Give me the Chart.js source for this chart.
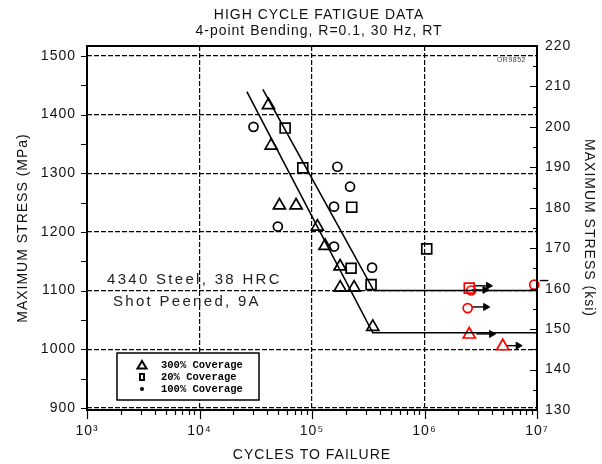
<!DOCTYPE html>
<html>
<head>
<meta charset="utf-8">
<script src="https://cdn.jsdelivr.net/npm/chart.js@4.4.0/dist/chart.umd.min.js"></script>
<style>
  html, body { margin: 0; padding: 0; background: #fff; }
</style>
</head>
<body>
<canvas id="fatigueChart" width="602" height="464"></canvas>
<script>
// S-N data (cycles, MPa)
const tri300N = [41000, 43300, 51300, 72200, 111700, 130700, 177700, 178000, 236600, 347000];
const tri300S = [1416, 1347, 1245, 1245, 1209, 1176, 1141, 1105, 1105, 1038];
const sq20N = [57700, 82800, 225600, 222500, 335000, 1047000];
const sq20S = [1377, 1309, 1242, 1138, 1110, 1171];
const circ100N = [30200, 168000, 217900, 157000, 49700, 157000, 342000];
const circ100S = [1379, 1311, 1277, 1243, 1209, 1175, 1139];

// run-outs (red)
const triRunN = [2500000, 4960000];
const triRunS = [1025, 1005];
const sqRunN = [2500000];
const sqRunS = [1104];
const circRunN = [2600000, 2420000, 9460000];
const circRunS = [1100, 1070, 1110];

// run-out arrows
const arrowS = [1108, 1101, 1072, 1026, 1006, 1117];
const arrowFrom = [2720000, 2630000, 2650000, 2900000, 5400000, 10600000];
const arrowTo = [3700000, 3450000, 3500000, 3950000, 6800000, 12600000];

// fitted curves with knee
const fitLowN = [26360, 346800, 10000000];
const fitLowS = [1439, 1028, 1028];
const fitHighN = [36560, 354000, 10000000];
const fitHighS = [1443, 1100, 1100];

// axes
const xTicks = [];
for (let d = 3; d < 7; d++) {
  for (let m = 1; m < 10; m++) xTicks.push(m * Math.pow(10, d));
}
xTicks.push(1e7);
const mpaTicks = [900, 950, 1000, 1050, 1100, 1150, 1200, 1250, 1300, 1350, 1400, 1450, 1500];
const ksiTicks = [];
for (let k = 130; k <= 220; k += 5) ksiTicks.push(k);
const supDigits = { 3: '\u00b3', 4: '\u2074', 5: '\u2075', 6: '\u2076', 7: '\u2077' };

const KSI_TO_MPA = 6.894757;
const FONT = "'Liberation Sans', Arial, sans-serif";

function pts(xs, ys) {
  return xs.map((x, i) => ({ x: x, y: ys[i] }));
}
function isDecade(v) {
  const l = Math.log10(v);
  return Math.abs(l - Math.round(l)) < 1e-9;
}

function markers(xs, ys, style, color, radius) {
  return {
    data: pts(xs, ys),
    showLine: false,
    pointStyle: style,
    pointRadius: radius,
    pointBorderColor: color,
    pointBackgroundColor: 'rgba(0,0,0,0)',
    pointBorderWidth: 1.7,
    clip: false
  };
}
function fitLine(xs, ys) {
  return {
    data: pts(xs, ys),
    showLine: true,
    borderColor: '#000',
    borderWidth: 1.6,
    pointRadius: 0,
    tension: 0
  };
}

const datasets = [
  fitLine(fitLowN, fitLowS),
  fitLine(fitHighN, fitHighS),
  markers(tri300N, tri300S, 'triangle', '#000', 7),
  markers(sq20N, sq20S, 'rect', '#000', 7),
  markers(circ100N, circ100S, 'circle', '#000', 4.5),
  markers(triRunN, triRunS, 'triangle', '#ff0000', 7),
  markers(sqRunN, sqRunS, 'rect', '#ff0000', 7),
  markers(circRunN, circRunS, 'circle', '#ff0000', 4.5)
];
arrowS.forEach((s, i) => {
  datasets.push({
    data: [{ x: arrowFrom[i], y: s }, { x: arrowTo[i], y: s }],
    showLine: true,
    borderColor: '#000',
    borderWidth: 1.4,
    pointRadius: [0, 4],
    pointStyle: 'triangle',
    pointRotation: 90,
    pointBackgroundColor: '#000',
    pointBorderColor: '#000',
    pointBorderWidth: 1,
    clip: false
  });
});

// frame, tick marks, titles, notes and legend
const decorPlugin = {
  id: 'decor',
  beforeDraw(chart) {
    chart.ctx.letterSpacing = '1px';
  },
  afterDraw(chart) {
    const ctx = chart.ctx;
    const a = chart.chartArea;
    const xs = chart.scales.x, ys = chart.scales.y, ks = chart.scales.y2;
    ctx.save();
    ctx.strokeStyle = '#000';
    ctx.lineWidth = 1.2;
    ctx.beginPath();
    mpaTicks.forEach(v => {
      const p = Math.round(ys.getPixelForValue(v)) + 0.5;
      ctx.moveTo(a.left - 6, p); ctx.lineTo(a.left, p);
    });
    ksiTicks.forEach(v => {
      const p = Math.round(ks.getPixelForValue(v)) + 0.5;
      ctx.moveTo(a.right - (v % 10 === 0 ? 7 : 4), p); ctx.lineTo(a.right, p);
    });
    xTicks.forEach(v => {
      const p = Math.round(xs.getPixelForValue(v)) + 0.5;
      ctx.moveTo(p, a.bottom); ctx.lineTo(p, a.bottom + (isDecade(v) ? 9 : 5));
    });
    ctx.stroke();

    ctx.lineWidth = 2;
    ctx.strokeRect(a.left, a.top, a.right - a.left, a.bottom - a.top);

    // titles
    ctx.fillStyle = '#111';
    ctx.textAlign = 'center';
    ctx.textBaseline = 'middle';
    ctx.letterSpacing = '1px';
    ctx.font = '14px ' + FONT;
    ctx.fillText('HIGH CYCLE FATIGUE DATA', 319, 15);
    ctx.fillText('4-point Bending, R=0.1, 30 Hz, RT', 319, 31);

    ctx.font = '7px ' + FONT;
    ctx.letterSpacing = '0.5px';
    ctx.fillStyle = '#444';
    ctx.textAlign = 'right';
    ctx.fillText('OR9852', 526, 60);

    // material note
    ctx.fillStyle = '#222';
    ctx.textAlign = 'left';
    ctx.font = '15px ' + FONT;
    ctx.letterSpacing = '2.3px';
    ctx.fillText('4340 Steel, 38 HRC', 107, 280);
    ctx.fillText('Shot Peened, 9A', 113, 302);

    // legend box
    ctx.letterSpacing = '0px';
    ctx.fillStyle = '#fff';
    ctx.fillRect(117, 353, 142, 47);
    ctx.lineWidth = 1.5;
    ctx.strokeRect(117, 353, 142, 47);
    ctx.strokeStyle = '#000';
    ctx.fillStyle = '#000';
    ctx.lineWidth = 2;
    ctx.beginPath();
    ctx.moveTo(142, 361); ctx.lineTo(146.5, 368.5); ctx.lineTo(137.5, 368.5); ctx.closePath();
    ctx.stroke();
    ctx.strokeRect(140, 374, 4, 6);
    ctx.beginPath();
    ctx.arc(142, 389, 2, 0, Math.PI * 2);
    ctx.fill();
    ctx.font = 'bold 10.5px "Liberation Mono", "Courier New", monospace';
    ctx.textBaseline = 'middle';
    ctx.fillText('300% Coverage', 161, 365);
    ctx.fillText('20% Coverage', 161, 377);
    ctx.fillText('100% Coverage', 161, 389);
    ctx.restore();
  }
};

const tickFont = { family: FONT, size: 14 };
const titleFont = { family: FONT, size: 14 };

new Chart(document.getElementById('fatigueChart'), {
  type: 'scatter',
  data: { datasets: datasets },
  options: {
    responsive: false,
    animation: false,
    layout: { padding: { top: 46, left: 0, right: 0, bottom: 0 } },
    plugins: { legend: { display: false }, tooltip: { enabled: false } },
    scales: {
      x: {
        type: 'logarithmic',
        position: 'bottom',
        min: 1e3,
        max: 1e7,
        afterBuildTicks: s => { s.ticks = xTicks.map(v => ({ value: v })); },
        afterFit: s => { s.height = 54; },
        ticks: {
          autoSkip: false,
          maxRotation: 0,
          minRotation: 0,
          padding: 13,
          color: '#111',
          font: tickFont,
          callback: v => isDecade(v) ? '10' + supDigits[Math.round(Math.log10(v))] : ''
        },
        grid: {
          drawTicks: false,
          lineWidth: 1.2,
          color: c => (c.tick && isDecade(c.tick.value)) ? '#000' : 'rgba(0,0,0,0)'
        },
        border: { display: false, dash: [5, 2] },
        title: { display: true, text: 'CYCLES TO FAILURE', color: '#111', font: titleFont, padding: { top: 0, bottom: 0 } }
      },
      y: {
        position: 'left',
        min: 130 * KSI_TO_MPA,
        max: 220 * KSI_TO_MPA,
        afterBuildTicks: s => { s.ticks = mpaTicks.map(v => ({ value: v })); },
        afterFit: s => { s.width = 87; },
        ticks: {
          padding: 11,
          color: '#111',
          font: tickFont,
          callback: v => v % 100 === 0 ? String(v) : ''
        },
        grid: {
          drawTicks: false,
          lineWidth: 1.2,
          color: c => (c.tick && c.tick.value % 100 === 0) ? '#000' : 'rgba(0,0,0,0)'
        },
        border: { display: false, dash: [5, 2] },
        title: { display: true, text: 'MAXIMUM STRESS (MPa)', color: '#111', font: titleFont, padding: { top: 15, bottom: 0 } }
      },
      y2: {
        position: 'right',
        min: 130,
        max: 220,
        afterBuildTicks: s => { s.ticks = ksiTicks.map(v => ({ value: v })); },
        afterFit: s => { s.width = 65; },
        ticks: {
          padding: 8,
          color: '#111',
          font: tickFont,
          callback: v => v % 10 === 0 ? String(v) : ''
        },
        grid: { display: false, drawTicks: false },
        border: { display: false },
        title: { display: true, text: 'MAXIMUM STRESS (ksi)', color: '#111', font: titleFont, padding: { top: 5, bottom: 0 } }
      }
    }
  },
  plugins: [decorPlugin]
});
</script>
</body>
</html>
